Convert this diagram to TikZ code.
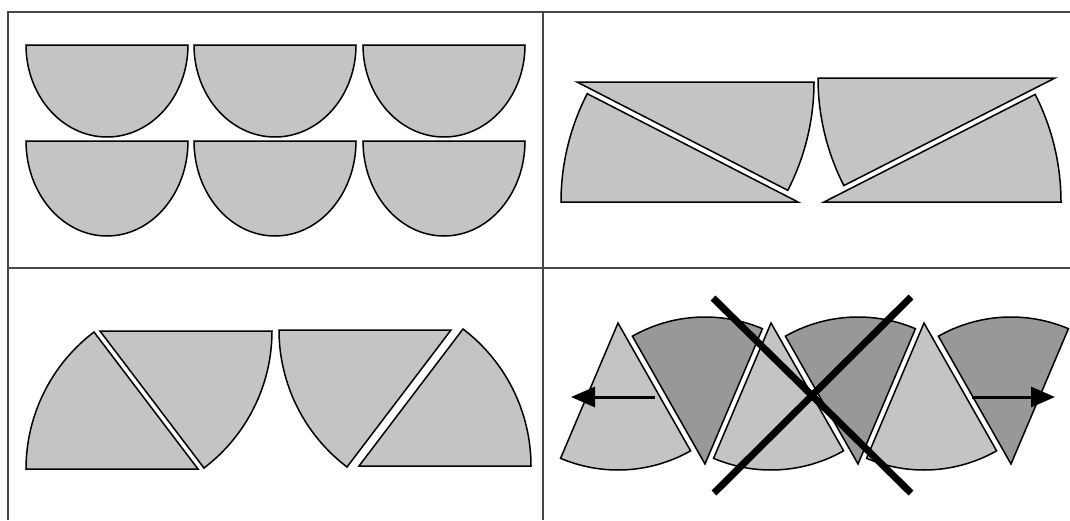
\documentclass[tikz,border=0pt]{standalone}
\usetikzlibrary{arrows.meta}
\definecolor{lightfill}{HTML}{C4C4C4}
\definecolor{darkfill}{HTML}{989898}
\definecolor{framecol}{HTML}{474747}
\begin{document}
\begin{tikzpicture}[x=1pt,y=-1pt,
  piece/.style={draw=black, fill=lightfill, line width=1.5pt, line join=miter},
  darkpiece/.style={piece, fill=darkfill},
  framel/.style={draw=framecol, line width=2.5pt},
  cross/.style={draw=black, line width=7pt},
  pusharrow/.style={draw=black, line width=3pt, -{Triangle[length=24pt,width=20pt]}}]
\useasboundingbox (0,0) rectangle (1070,520);
\fill[white] (0,0) rectangle (1070,520);
% frame
\draw[framel] (1070,12) -- (8,12) -- (8,520);
\draw[framel] (543,12) -- (543,520);
\draw[framel] (8,268) -- (1070,268);
% quadrant 1: six half discs
\foreach \cx in {107,275,444} {
  \draw[piece] (\cx-81,45) -- (\cx+81,45) arc[start angle=0,end angle=180,x radius=81,y radius=92] -- cycle;
  \draw[piece] (\cx-81,141) -- (\cx+81,141) arc[start angle=0,end angle=180,x radius=81,y radius=95] -- cycle;
}
% quadrant 2
\draw[piece] (577,82) -- ++(0:237) arc[start angle=0,end angle=27.2,radius=237] -- cycle;
\draw[piece] (798,202) -- ++(180:237) arc[start angle=180,end angle=207.2,radius=237] -- cycle;
\draw[piece] (1055,78) -- ++(180:237) arc[start angle=180,end angle=153,radius=237] -- cycle;
\draw[piece] (824,202) -- ++(0:237) arc[start angle=0,end angle=-27,radius=237] -- cycle;
% quadrant 3
\draw[piece] (198,469) -- ++(180:172) arc[start angle=180,end angle=232.8,radius=172] -- cycle;
\draw[piece] (100,331) -- ++(0:172) arc[start angle=0,end angle=52.8,radius=172] -- cycle;
\draw[piece] (451,330) -- ++(180:172) arc[start angle=180,end angle=127.2,radius=172] -- cycle;
\draw[piece] (359,466) -- ++(0:172) arc[start angle=0,end angle=-52.8,radius=172] -- cycle;
% quadrant 4
\foreach \k in {0,1,2} {
  \draw[piece] (618+153*\k,323) -- ++(60.4:147) arc[start angle=60.4,end angle=113,radius=147] -- cycle;
  \draw[darkpiece] (705+153*\k,464) -- ++(240.4:147) arc[start angle=240.4,end angle=293,radius=147] -- cycle;
}
\draw[pusharrow] (655,397) -- (571,397);
\draw[pusharrow] (972,397) -- (1055,397);
\draw[cross] (713,298) -- (911,493);
\draw[cross] (911,297) -- (714,493);
\end{tikzpicture}
\end{document}
